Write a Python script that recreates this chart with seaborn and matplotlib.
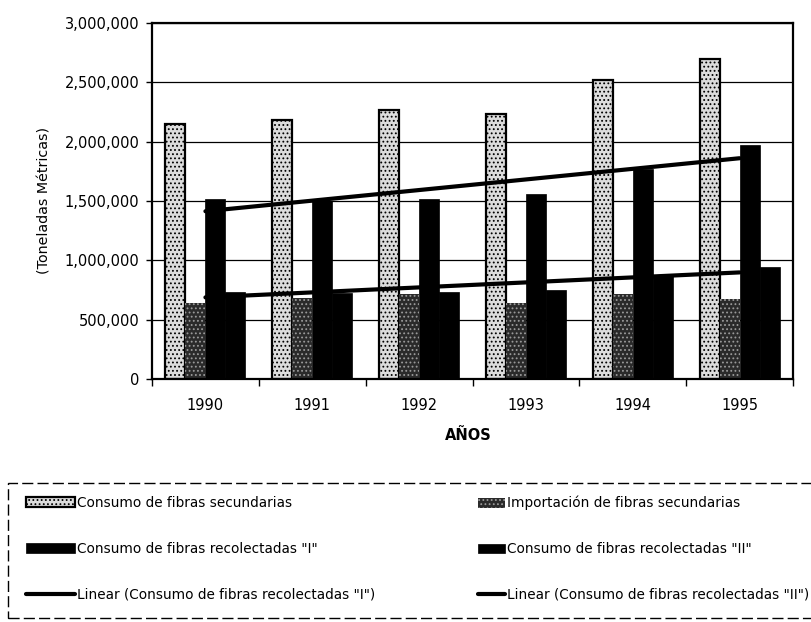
import numpy as np
import pandas as pd
import matplotlib
matplotlib.use("Agg")
import matplotlib.pyplot as plt
import seaborn as sns
from matplotlib.patches import Patch, Rectangle
from matplotlib.lines import Line2D
from matplotlib.ticker import FuncFormatter

# values (toneladas métricas)
years = ["1990", "1991", "1992", "1993", "1994", "1995"]
consumo_secundarias = [2150000, 2180000, 2270000, 2235000, 2520000, 2700000]
importacion_secundarias = [640000, 685000, 713000, 643000, 713000, 677000]
recolectadas_i = [1514000, 1500000, 1514000, 1556000, 1767000, 1971000]
recolectadas_ii = [736000, 727000, 736000, 747000, 868000, 944000]

series_names = [
    "Consumo de fibras secundarias",
    "Importación de fibras secundarias",
    'Consumo de fibras recolectadas "I"',
    'Consumo de fibras recolectadas "II"',
]
trend_names = [
    'Linear (Consumo de fibras recolectadas "I")',
    'Linear (Consumo de fibras recolectadas "II")',
]

df = pd.DataFrame({
    "year": years * 4,
    "serie": np.repeat(series_names, len(years)),
    "valor": consumo_secundarias + importacion_secundarias + recolectadas_i + recolectadas_ii,
})

sns.set_theme(style="white")
plt.rcParams["font.family"] = ["DejaVu Sans"]
plt.rcParams["text.color"] = "black"
plt.rcParams["hatch.linewidth"] = 0.8

bar_styles = [
    dict(facecolor="#dcdcdc", edgecolor="black", linewidth=1.6, hatch="...."),
    dict(facecolor="#2a2a2a", edgecolor="#9a9a9a", linewidth=0, hatch="...."),
    dict(facecolor="black", edgecolor="black", linewidth=0.5),
    dict(facecolor="black", edgecolor="black", linewidth=0.5),
]

fig = plt.figure(figsize=(8.11, 6.22), dpi=100)
ax = fig.add_axes([152 / 811, 1 - 379 / 622, 641 / 811, 356 / 622])

sns.barplot(data=df, x="year", y="valor", hue="serie", hue_order=series_names,
            width=0.75, errorbar=None, saturation=1, legend=False, ax=ax)
for cont, st in zip(ax.containers, bar_styles):
    for bar in cont:
        bar.set(**st)
        bar.set_zorder(2)

# linear trend lines like the spreadsheet trendlines
pos = np.arange(len(years))
for vals in (recolectadas_i, recolectadas_ii):
    sns.regplot(x=pos, y=np.array(vals, dtype=float), scatter=False, ci=None,
                truncate=True, color="black", line_kws=dict(lw=3, zorder=3), ax=ax)

ax.set_xlim(-0.5, len(years) - 0.5)
ax.set_ylim(0, 3000000)
ax.set_yticks(np.arange(0, 3000001, 500000))
ax.yaxis.set_major_formatter(FuncFormatter(lambda v, p: f"{v:,.0f}"))
ax.set_xticks(pos)
ax.set_xticklabels(years)
ax.set_xticks(np.arange(-0.5, len(years)), minor=True)
ax.tick_params(axis="x", which="major", length=0, pad=14, labelsize=10.5, colors="black")
ax.tick_params(axis="x", which="minor", length=5, width=1, direction="out", bottom=True, color="black")
ax.tick_params(axis="y", length=4, width=1, direction="out", left=True, pad=5,
               labelsize=10.5, colors="black")
ax.set_xlabel("")
ax.set_ylabel("")
ax.yaxis.grid(True, color="black", lw=0.9)
ax.set_axisbelow(True)
for sp in ax.spines.values():
    sp.set_color("black")
    sp.set_linewidth(1.6)

fig.text(45 / 811, 1 - 200 / 622, "(Toneladas Métricas)", rotation=90,
         ha="center", va="center", fontsize=10.3, color="black")
fig.text(468 / 811, 1 - 436 / 622, "AÑOS", ha="center", va="center",
         fontsize=10.5, fontweight="bold", color="black")

# legend box (dashed, runs off the right edge as in the scan)
fig.add_artist(Rectangle((8 / 811, 1 - 618 / 622), 0.995, 135 / 622,
                         transform=fig.transFigure, fill=False, edgecolor="black",
                         lw=1, ls=(0, (8, 3))))

bar_handles = [Patch(**st) for st in bar_styles]
line_handles = [Line2D([], [], color="black", lw=3) for _ in trend_names]

leg_kw = dict(loc="upper left", frameon=False, borderpad=0, borderaxespad=0,
              handletextpad=0.15, labelcolor="black", fontsize=9.8, labelspacing=2.33)
leg1 = fig.legend([bar_handles[0], bar_handles[2], line_handles[0]],
                  [series_names[0], series_names[2], trend_names[0]],
                  bbox_to_anchor=(26 / 811, 1 - 496 / 622), handlelength=3.6, **leg_kw)
leg2 = fig.legend([bar_handles[1], bar_handles[3], line_handles[1]],
                  [series_names[1], series_names[3], trend_names[1]],
                  bbox_to_anchor=(478 / 811, 1 - 496 / 622), handlelength=2.0, **leg_kw)

fig.savefig("out.png", dpi=100, facecolor="white")
